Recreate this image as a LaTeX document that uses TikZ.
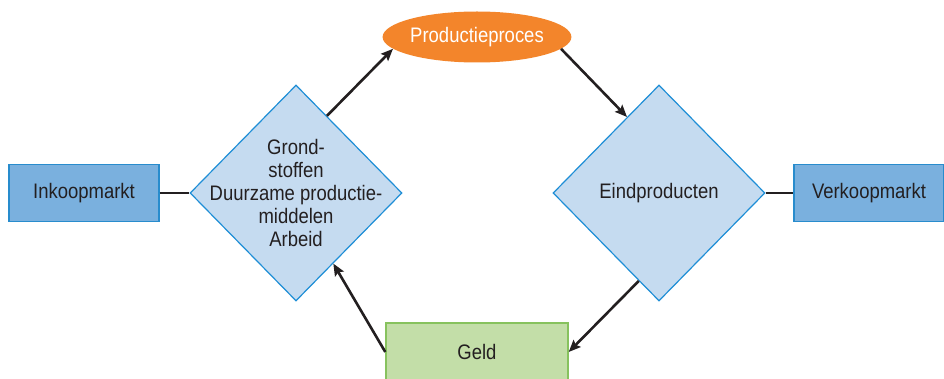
\documentclass[tikz,border=0pt]{standalone}
\usepackage{fontspec}
\setmainfont{Liberation Sans}[FakeStretch=0.88]
\usetikzlibrary{arrows.meta,calc,shapes.geometric}
\definecolor{ink}{RGB}{35,31,32}
\definecolor{market}{RGB}{122,176,222}
\definecolor{marketline}{RGB}{40,140,205}
\definecolor{stock}{RGB}{197,219,240}
\definecolor{stockline}{RGB}{30,142,214}
\definecolor{proc}{RGB}{243,133,43}
\definecolor{money}{RGB}{195,222,168}
\definecolor{moneyline}{RGB}{135,194,94}
\tikzset{
  every picture/.style={x=1pt, y=-1pt, font=\fontsize{21}{23}\selectfont, text=ink},
  box/.style={rectangle, inner sep=0pt, minimum height=57pt, line width=1.4pt},
  mkt/.style={box, fill=market, draw=marketline, minimum width=150pt},
  cash/.style={box, fill=money, draw=moneyline, minimum width=182pt, minimum height=58pt},
  stockbox/.style={diamond, fill=stock, draw=stockline, line width=1.2pt, inner sep=0pt, minimum width=212pt, minimum height=216pt},
  procbox/.style={ellipse, fill=proc, draw=none, text=white, inner sep=0pt, minimum width=183pt, minimum height=51pt},
  txt/.style={align=center, inner sep=0pt},
  link/.style={draw=ink, line width=2.6pt},
  flow/.style={link, -{Stealth[length=12pt,width=10pt,inset=2pt]}},
}

\begin{document}
\begin{tikzpicture}
  \useasboundingbox (0,0) rectangle (944,379);
  % markets at both ends, stocks in the diamonds
  \node[mkt] (inkoop) at (84,193) {Inkoopmarkt};
  \node[mkt] (verkoop) at (869,193) {Verkoopmarkt};
  \node[stockbox] (grond) at (296,193) {};
  \node[txt] (grondtxt) at (grond.center) {Grond-\\stoffen\\Duurzame productie-\\middelen\\Arbeid};
  \node[stockbox] (eind) at (659,193) {Eindproducten};
  \node[procbox] (prod) at (477,37) {Productieproces};
  \node[cash] (geld) at (477,352) {Geld};
  \draw[link] (inkoop.east) -- (grond.west);
  \draw[link] (eind.east) -- (verkoop.west);
  % the loop: goods go round clockwise, money comes back
  \draw[flow] ($(grond.north)!0.29!(grond.east)$) -- (prod.188);
  \draw[flow] (prod.352) -- ($(eind.north)!0.3!(eind.west)$);
  \draw[flow] ($(eind.south)!0.19!(eind.west)$) -- (geld.east);
  \draw[flow] (geld.west) -- ($(grond.south)!0.35!(grond.east)$);
\end{tikzpicture}
\end{document}
